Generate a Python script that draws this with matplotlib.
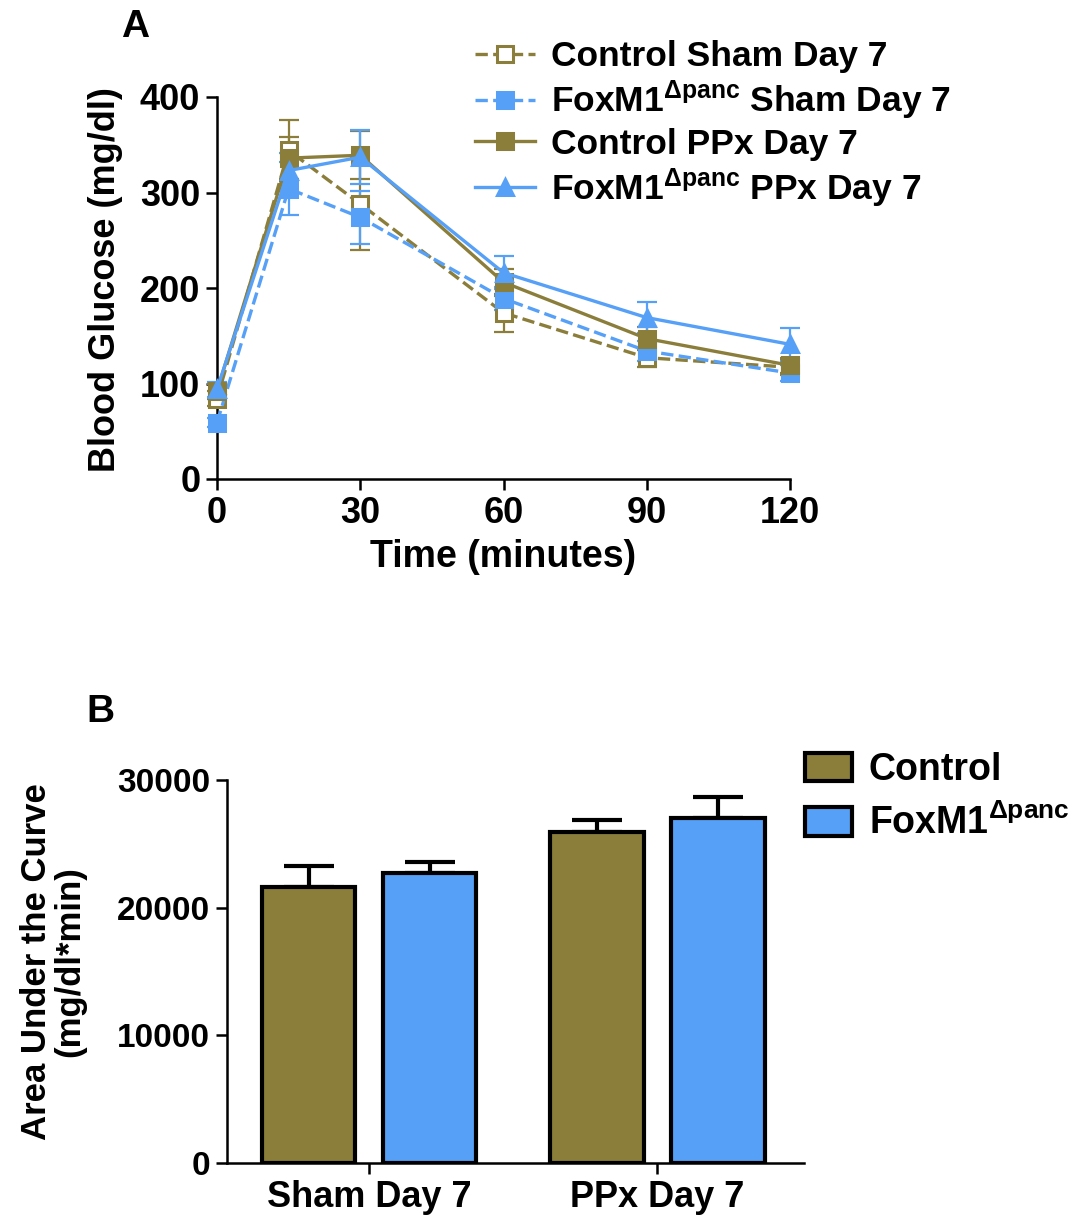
import matplotlib
matplotlib.use("Agg")
import matplotlib.pyplot as plt
import numpy as np

plt.rcParams["font.family"] = ["Liberation Sans", "DejaVu Sans"]
plt.rcParams["font.weight"] = "bold"
plt.rcParams["mathtext.fontset"] = "custom"
plt.rcParams["mathtext.rm"] = "Liberation Sans:bold"
plt.rcParams["mathtext.it"] = "Liberation Sans:bold"
plt.rcParams["mathtext.bf"] = "Liberation Sans:bold"

OLIVE = "#8B7D3A"
BLUE = "#56A0F7"
FOX = r"FoxM1$^{\Delta\mathrm{panc}}$"

# panel A: glucose tolerance
times = [0, 15, 30, 60, 90, 120]
ctrl_sham = [84, 344, 288, 174, 127, 117]
ctrl_sham_err = [8, 32, 48, 20, 10, 8]
fox_sham = [59, 304, 274, 189, 134, 111]
fox_sham_err = [5, 28, 28, 12, 10, 8]
ctrl_ppx = [92, 336, 339, 206, 147, 119]
ctrl_ppx_err = [8, 22, 25, 14, 12, 8]
fox_ppx = [94, 323, 337, 216, 169, 141]
fox_ppx_err = [8, 18, 28, 17, 16, 17]

# panel B: AUC
groups = ["Sham Day 7", "PPx Day 7"]
auc_ctrl = [21650, 25900]
auc_ctrl_err = [1650, 950]
auc_fox = [22750, 27000]
auc_fox_err = [850, 1700]

fig = plt.figure(figsize=(10.84, 12.18), dpi=100)

# ---- panel A
ax = fig.add_axes([217 / 1084, 1 - 479 / 1218, 573 / 1084, 382 / 1218])
series = [
    (ctrl_sham, ctrl_sham_err, OLIVE, "--", "s", "white", "Control Sham Day 7"),
    (fox_sham, fox_sham_err, BLUE, "--", "s", BLUE, FOX + " Sham Day 7"),
    (ctrl_ppx, ctrl_ppx_err, OLIVE, "-", "s", OLIVE, "Control PPx Day 7"),
    (fox_ppx, fox_ppx_err, BLUE, "-", "^", BLUE, FOX + " PPx Day 7"),
]
handles = []
for vals, err, col, ls, mk, mfc, lab in series:
    ax.errorbar(times, vals, yerr=err, fmt="none", ecolor=col, elinewidth=1.6,
                capsize=7, capthick=1.6, clip_on=False, zorder=2)
    h, = ax.plot(times, vals, ls=ls, color=col, lw=2.4, marker=mk, ms=11,
                 mfc=mfc, mec=col, mew=2.2, clip_on=False, zorder=3, label=lab)
    handles.append(h)

ax.set_xlim(0, 120)
ax.set_ylim(0, 400)
ax.set_xticks([0, 30, 60, 90, 120])
ax.set_yticks([0, 100, 200, 300, 400])
for s in ["top", "right"]:
    ax.spines[s].set_visible(False)
for s in ["left", "bottom"]:
    ax.spines[s].set_linewidth(1.8)
ax.tick_params(width=1.8, length=8, labelsize=26, pad=4)
ax.set_xlabel("Time (minutes)", fontsize=27, fontweight="bold", labelpad=6)
fig.text(106 / 1084, 1 - 280 / 1218, "Blood Glucose (mg/dl)", rotation=90,
         ha="center", va="center", fontsize=26, fontweight="bold")
fig.text(135 / 1084, 1 - 27 / 1218, "A", ha="center", va="center",
         fontsize=28, fontweight="bold")

fig.legend(handles=handles, loc="upper left",
           bbox_to_anchor=(475 / 1084, 1 - 40 / 1218), frameon=False,
           fontsize=25.5, handlelength=1.7, handletextpad=0.45,
           labelspacing=0.16, borderpad=0, borderaxespad=0)

# ---- panel B
bx = fig.add_axes([227 / 1084, 1 - 1163 / 1218, 577 / 1084, 383 / 1218])
x = np.arange(len(groups))
w = 0.326
off = 0.21
bx.bar(x - off, auc_ctrl, width=w, color=OLIVE, edgecolor="black",
       linewidth=3, zorder=3, label="Control")
bx.bar(x + off, auc_fox, width=w, color=BLUE, edgecolor="black",
       linewidth=3, zorder=3, label=FOX)
bx.errorbar(x - off, auc_ctrl, yerr=[np.zeros(len(groups)), auc_ctrl_err],
            fmt="none", ecolor="black", elinewidth=3, capsize=18, capthick=3,
            zorder=2)
bx.errorbar(x + off, auc_fox, yerr=[np.zeros(len(groups)), auc_fox_err],
            fmt="none", ecolor="black", elinewidth=3, capsize=18, capthick=3,
            zorder=2)
bx.set_xlim(-0.493, 1.51)
bx.set_ylim(0, 30000)
bx.set_xticks(x)
bx.set_xticklabels(groups, fontsize=26)
bx.set_yticks([0, 10000, 20000, 30000])
for s in ["top", "right"]:
    bx.spines[s].set_visible(False)
for s in ["left", "bottom"]:
    bx.spines[s].set_linewidth(1.8)
bx.tick_params(axis="y", width=1.8, length=8, labelsize=24, pad=4)
bx.tick_params(axis="x", width=1.8, length=8, pad=4)
fig.text(53 / 1084, 1 - 962 / 1218, "Area Under the Curve\n(mg/dl*min)",
         rotation=90, ha="center", va="center", multialignment="center",
         fontsize=25, fontweight="bold", linespacing=1.0)
fig.text(100 / 1084, 1 - 712 / 1218, "B", ha="center", va="center",
         fontsize=28, fontweight="bold")
fig.legend(*bx.get_legend_handles_labels(), loc="upper left",
           bbox_to_anchor=(805 / 1084, 1 - 752 / 1218), frameon=False,
           fontsize=27, handlelength=1.25, handleheight=0.8,
           handletextpad=0.45, labelspacing=0.45, borderpad=0,
           borderaxespad=0)

fig.savefig("out.png", dpi=100)
